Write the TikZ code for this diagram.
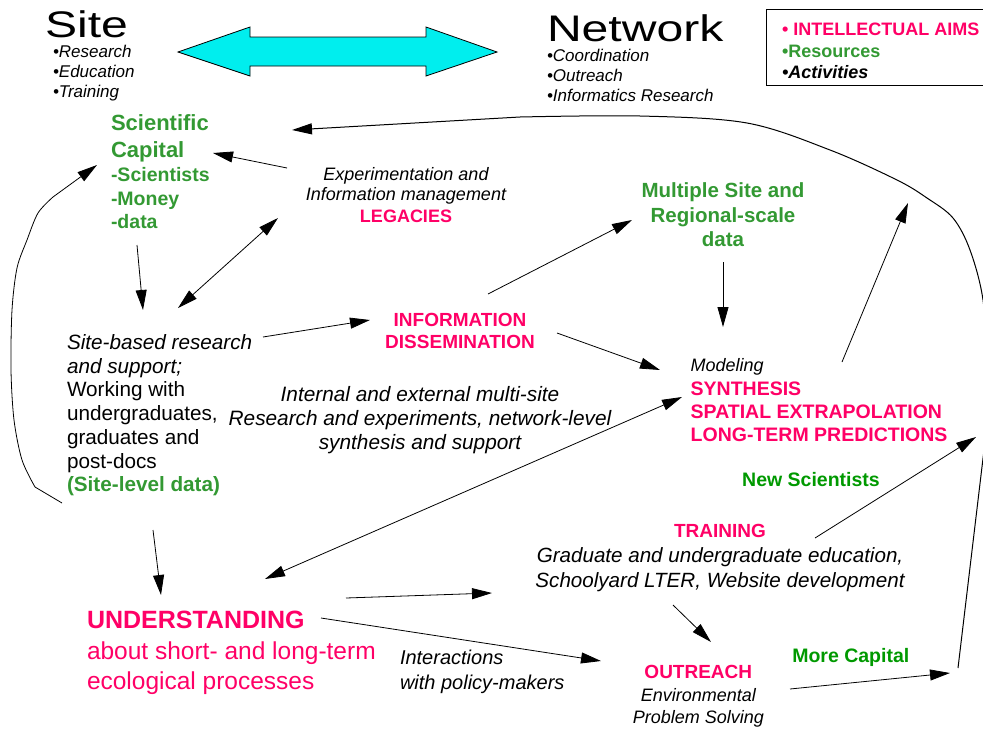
\documentclass[tikz,border=0pt]{standalone}
\usepackage{fontspec}
\setmainfont{Liberation Sans}
\newfontfamily\widefont[FakeStretch=1.3]{Liberation Sans}
\usepackage{tikz}
\usetikzlibrary{arrows.meta,calc,positioning}
\definecolor{aimpink}{RGB}{255,0,102}
\definecolor{resgreen}{RGB}{51,153,51}
\definecolor{flowgreen}{RGB}{0,153,0}
\definecolor{linkcyan}{RGB}{0,238,238}
\newcommand{\setfs}[2]{\fontsize{#1}{#2}\selectfont}
\tikzset{
  lbl/.style={inner sep=0pt, outer sep=0pt},
  arr/.style={-{Triangle[length=20pt,width=11pt]}, line width=0.8pt},
  dbl/.style={{Triangle[length=20pt,width=11pt]}-{Triangle[length=20pt,width=11pt]}, line width=0.8pt},
  big title/.style={lbl, anchor=base west, font=\widefont\setfs{37}{40}},
  bullets/.style={lbl, anchor=north west, align=left, font=\itshape\setfs{17}{20}},
  aim/.style={lbl, text=aimpink, font=\bfseries\setfs{19}{22}},
  res/.style={lbl, text=resgreen, font=\bfseries\setfs{20.5}{24.5}},
  gain/.style={lbl, anchor=base, text=flowgreen, font=\bfseries\setfs{19.5}{22}}
}
\begin{document}
\begin{tikzpicture}[x=1pt,y=-1pt]
    \useasboundingbox (0,0) rectangle (983,734);
    \node[big title] (site) at (45,37) {Site};
    \node[bullets] (sitelist) at (53,45) {•Research\\•Education\\•Training};
    \node[big title] (net) at (547,41) {Network};
    \node[bullets] (netlist) at (547,49.5) {•Coordination\\•Outreach\\•Informatics Research};
    \filldraw[fill=linkcyan, line width=0.8pt] (178,52) -- (250,27) -- (250,37) -- (426,37) -- (426,27)
        -- (497,52) -- (426,76) -- (426,66) -- (250,66) -- (250,76) -- cycle;
    \draw[line width=0.8pt] (766,9) rectangle (995,85);
    \node[lbl, anchor=north west, align=left, font=\bfseries\setfs{18}{21.5}] (legend) at (782,23)
        {\textcolor{aimpink}{• INTELLECTUAL AIMS}\\\textcolor{resgreen}{•Resources}\\\textit{•Activities}};
    \node[res, anchor=north west, align=left, font=\bfseries\setfs{22}{26.3}] (sc) at (111,115) {Scientific\\Capital};
    \node[res, anchor=north west, align=left, font=\bfseries\setfs{19.5}{23.3}] (scl) at (111,167.7) {-Scientists\\-Money\\-data};
    \node[lbl, anchor=north, align=center, font=\itshape\setfs{18}{20}] (expt) at (406,167)
        {Experimentation and\\Information management\\[2pt]\textcolor{aimpink}{\upshape\bfseries LEGACIES}};
    \node[lbl, anchor=north west, align=left, font=\setfs{20.7}{23.7}] (sbr) at (67,334.5)
        {\textit{Site-based research}\\\textit{and support;}\\Working with\\undergraduates,\\graduates and\\post-docs\\\textcolor{resgreen}{\bfseries (Site-level data)}};
    \node[aim, anchor=north, align=center] (info) at (460,313.7) {INFORMATION\\DISSEMINATION};
    \node[lbl, anchor=north, align=center, font=\itshape\setfs{20.8}{24}] (intl) at (420,386)
        {Internal and external multi-site\\Research and experiments, network-level\\synthesis and support};
    \node[res, anchor=north, align=center] (multi) at (723,183) {Multiple Site and\\Regional-scale\\data};
    \node[aim, anchor=north west, align=left, font=\bfseries\setfs{19.5}{23.3}] (model) at (690.7,358.7)
        {\textcolor{black}{\mdseries\itshape\fontsize{18}{20}\selectfont Modeling}\\SYNTHESIS\\SPATIAL EXTRAPOLATION\\LONG-TERM PREDICTIONS};
    \node[gain] (newsci) at (811,486.7) {New Scientists};
    \node[lbl, anchor=north, align=center, font=\itshape\setfs{20.6}{25}] (train) at (720,524.6)
        {\textcolor{aimpink}{\upshape\bfseries\fontsize{19}{22}\selectfont TRAINING}\\Graduate and undergraduate education,\\Schoolyard LTER, Website development};
    \node[lbl, anchor=north west, align=left, text=aimpink, font=\setfs{24.5}{30.3}] (und) at (87,611.4)
        {{\bfseries\fontsize{25}{30}\selectfont UNDERSTANDING}\\about short- and long-term\\ecological processes};
    \node[lbl, anchor=north west, align=left, font=\itshape\setfs{20}{25}] (interact) at (400,650) {Interactions\\with policy-makers};
    \node[lbl, anchor=north, align=center, font=\itshape\setfs{18}{22.3}] (outr) at (698.3,665.7)
        {\textcolor{aimpink}{\upshape\bfseries\fontsize{19}{22}\selectfont OUTREACH}\\Environmental\\Problem Solving};
    \node[gain] (morecap) at (850.8,662.7) {More Capital};
    \coordinate (upT) at (908,203);
    \coordinate (newT) at (976,437);
    \coordinate (capT) at (950,673);
    \coordinate (loopS) at (958,668);
    \draw[arr, line width=1pt] (loopS) -- plot[smooth, tension=0.55] coordinates {(984,450) (987,370) (983,300) (970,250) (953,218)
        (927,198) (897,180) (830,150) (747,123) (640,116) (520,117)} -- ($(sc.north west)+(181,15)$);
    \draw[arr] ($(sbr.north west)+(-5,168.5)$) -- plot[smooth, tension=0.5] coordinates {(35,487) (22,460) (14,420) (11,370)
        (12,310) (17,268) (27,240) (38,213) (53,197)} -- ($(sc.north west)+(-14,50)$);
    \draw[arr] ($(expt.north)+(-119,1)$) -- ($(sc.north west)+(102,38)$);
    \draw[arr] ($(scl.north west)+(26,77.3)$) -- ($(sbr.north west)+(76,-24.5)$);
    \draw[dbl] ($(sbr.north west)+(111,-26.5)$) -- ($(expt.north)+(-128,51)$);
    \draw[arr] ($(sbr.north west)+(196,2.5)$) -- ($(info.north)+(-90,6.3)$);
    \draw[arr] ($(info.north)+(28,-19.7)$) -- ($(multi.north)+(-91,37)$);
    \draw[arr] ($(info.north)+(97,19.3)$) -- ($(model.north west)+(-30.7,11.3)$);
    \draw[arr] ($(multi.north)+(0,79)$) -- ($(model.north west)+(32.3,-31.7)$);
    \draw[arr] ($(model.north west)+(151.3,3.3)$) -- (upT);
    \draw[dbl] ($(und.north west)+(178,-32.4)$) -- ($(model.north west)+(-8.7,38.3)$);
    \draw[arr] ($(sbr.north west)+(86,195.5)$) -- ($(und.north west)+(74,-16.4)$);
    \draw[arr] ($(und.north west)+(259,-13.4)$) -- ($(train.north)+(-228,68.4)$);
    \draw[arr] ($(und.north west)+(234,6.6)$) -- ($(outr.north)+(-97.3,-4.7)$);
    \draw[arr] ($(train.north)+(-47,80.4)$) -- ($(outr.north)+(12.7,-23.7)$);
    \draw[arr] ($(train.north)+(95,13.4)$) -- (newT);
    \draw[arr] ($(outr.north)+(91.7,23.3)$) -- (capT);
\end{tikzpicture}
\end{document}
